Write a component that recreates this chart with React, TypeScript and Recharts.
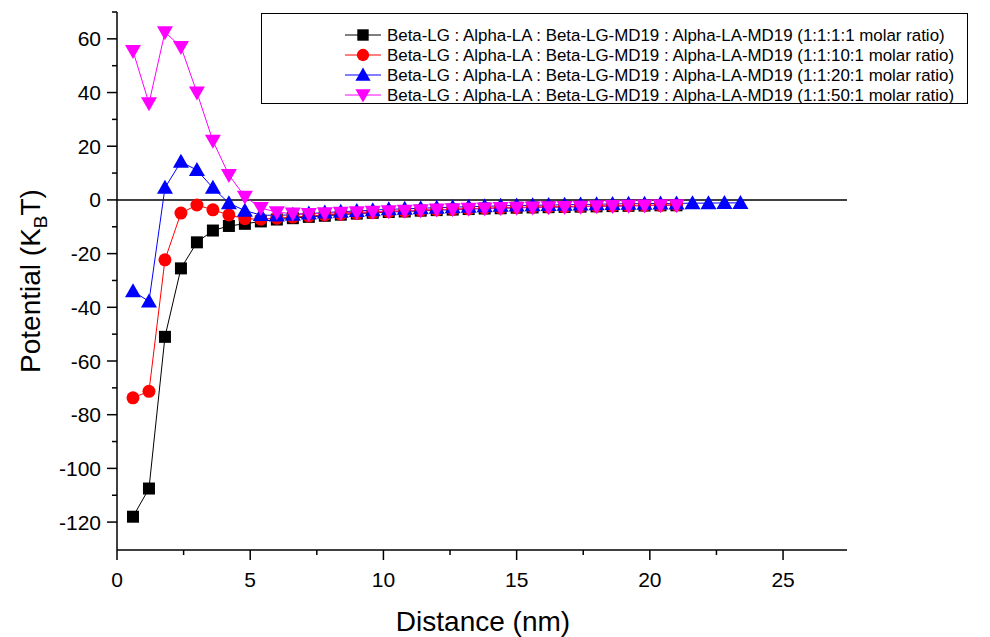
import React from 'react';
import { LineChart, Line, XAxis, YAxis, ReferenceLine, Legend } from 'recharts';

const distances = [
  0.6, 1.2, 1.8, 2.4, 3.0, 3.6, 4.2, 4.8, 5.4, 6.0,
  6.6, 7.2, 7.8, 8.4, 9.0, 9.6, 10.2, 10.8, 11.4, 12.0,
  12.6, 13.2, 13.8, 14.4, 15.0, 15.6, 16.2, 16.8, 17.4, 18.0,
  18.6, 19.2, 19.8, 20.4, 21.0, 21.6, 22.2, 22.8, 23.4,
];

const ratio1Values = [
  -118, -107.5, -51, -25.5, -15.8, -11.4, -9.7, -8.9, -8, -7.3,
  -6.8, -6.3, -5.9, -5.5, -5.1, -4.8, -4.5, -4.3, -4.0, -3.8,
  -3.6, -3.4, -3.2, -3.1, -2.9, -2.8, -2.7, -2.6, -2.5, -2.4,
  -2.3, -2.2, -2.1, -2.0, -2.0,
];

const ratio10Values = [
  -73.7, -71.3, -22.3, -4.9, -1.9, -3.7, -5.6, -7, -7.2, -6.8,
  -6.4, -6.0, -5.6, -5.3, -5.0, -4.7, -4.4, -4.2, -3.9, -3.7,
  -3.5, -3.3, -3.1, -3.0, -2.8, -2.7, -2.6, -2.5, -2.4, -2.3,
  -2.2, -2.1, -2.0, -2.0, -1.9,
];

const ratio20Values = [
  -34, -37.8, 4.5, 14.2, 11.1, 4.5, -1.2, -4, -5.6, -5.8,
  -5.5, -5.1, -4.7, -4.4, -4.1, -3.8, -3.5, -3.3, -3.1, -2.9,
  -2.7, -2.5, -2.4, -2.2, -2.1, -2.0, -1.9, -1.8, -1.7, -1.6,
  -1.5, -1.4, -1.4, -1.3, -1.3, -1.2, -1.2, -1.1, -1.1,
];

const ratio50Values = [
  55.5, 36, 62.5, 57, 40, 22, 9.3, 1.2, -3, -4.6,
  -5.1, -5.2, -5.0, -4.8, -4.6, -4.4, -4.2, -4.0, -3.8, -3.6,
  -3.5, -3.3, -3.2, -3.0, -2.9, -2.8, -2.7, -2.6, -2.5, -2.4,
  -2.3, -2.2, -2.1, -2.0, -2.0,
];

const seriesNames = [
  'Beta-LG : Alpha-LA : Beta-LG-MD19 : Alpha-LA-MD19 (1:1:1:1 molar ratio)',
  'Beta-LG : Alpha-LA : Beta-LG-MD19 : Alpha-LA-MD19 (1:1:10:1 molar ratio)',
  'Beta-LG : Alpha-LA : Beta-LG-MD19 : Alpha-LA-MD19 (1:1:20:1 molar ratio)',
  'Beta-LG : Alpha-LA : Beta-LG-MD19 : Alpha-LA-MD19 (1:1:50:1 molar ratio)',
];
const seriesColors = ['#000000', '#ff0000', '#0000ff', '#ff00ff'];
const seriesShapes = ['square', 'circle', 'up', 'down'];

const xTicks = [0, 2.5, 5, 7.5, 10, 12.5, 15, 17.5, 20, 22.5, 25];
const xMajorTicks = [0, 5, 10, 15, 20, 25];
const yTicks = [-120, -110, -100, -90, -80, -70, -60, -50, -40, -30, -20, -10, 0, 10, 20, 30, 40, 50, 60, 70];
const yMajorTicks = [-120, -100, -80, -60, -40, -20, 0, 20, 40, 60];

const FONT = '"Liberation Sans", Arial, sans-serif';

const toData = (vals: number[]) => vals.map((v, i) => ({ x: distances[i], y: v }));
const seriesData = [ratio1Values, ratio10Values, ratio20Values, ratio50Values].map(toData);

function Marker({ shape, cx, cy, color, s = 1 }: { shape: string; cx: number; cy: number; color: string; s?: number }) {
  if (shape === 'square') {
    return <rect x={cx - 6 * s} y={cy - 6 * s} width={12 * s} height={12 * s} fill={color} />;
  }
  if (shape === 'circle') {
    return <circle cx={cx} cy={cy} r={6.5 * s} fill={color} />;
  }
  if (shape === 'up') {
    return (
      <polygon
        points={`${cx},${cy - 8 * s} ${cx + 8 * s},${cy + 6 * s} ${cx - 8 * s},${cy + 6 * s}`}
        fill={color}
      />
    );
  }
  return (
    <polygon
      points={`${cx - 8 * s},${cy - 6 * s} ${cx + 8 * s},${cy - 6 * s} ${cx},${cy + 8 * s}`}
      fill={color}
    />
  );
}

const makeDot = (shape: string, color: string) => (p: any) => {
  if (p.cx == null || p.cy == null) return <g key={`e-${shape}-${p.index}`} />;
  return (
    <g key={`d-${shape}-${p.index}`}>
      <Marker shape={shape} cx={p.cx} cy={p.cy} color={color} />
    </g>
  );
};

const XTick = (props: any) => {
  const { x, y, payload } = props;
  const v = payload.value;
  const major = xMajorTicks.includes(v);
  return (
    <g>
      <line x1={x} y1={y} x2={x} y2={y + (major ? 10 : 5)} stroke="#000" strokeWidth={1.5} />
      {major && (
        <text x={x} y={y + 37} textAnchor="middle" fontSize={21} fontFamily={FONT} fill="#000">
          {v}
        </text>
      )}
    </g>
  );
};

const YTick = (props: any) => {
  const { x, y, payload } = props;
  const v = payload.value;
  const major = yMajorTicks.includes(v);
  return (
    <g>
      <line x1={x} y1={y} x2={x - (major ? 10 : 5)} y2={y} stroke="#000" strokeWidth={1.5} />
      {major && (
        <text x={x - 16} y={y + 7.5} textAnchor="end" fontSize={21} fontFamily={FONT} fill="#000">
          {v}
        </text>
      )}
    </g>
  );
};

const LegendBox = () => (
  <svg width={708} height={92} style={{ display: 'block' }}>
    <rect x={0.5} y={0.5} width={706} height={90} fill="#fff" stroke="#000" strokeWidth={1} />
    {seriesNames.map((name, i) => {
      const cy = 22 + i * 20;
      return (
        <g key={name}>
          <line x1={84} y1={cy} x2={120} y2={cy} stroke={seriesColors[i]} strokeWidth={1} />
          <Marker shape={seriesShapes[i]} cx={102} cy={cy} color={seriesColors[i]} s={0.95} />
          <text x={126} y={cy + 6} fontSize={16.9} fontFamily={FONT} fill="#000">
            {name}
          </text>
        </g>
      );
    })}
  </svg>
);

export default function App() {
  return (
    <div style={{ position: 'absolute', left: 0, top: 0, width: 990, height: 637, background: '#fff' }}>
      <LineChart
        width={990}
        height={637}
        margin={{ top: 12, right: 143, bottom: 0, left: 0 }}
        style={{ fontFamily: FONT }}
      >
        <XAxis
          type="number"
          dataKey="x"
          domain={[0, 27.4]}
          allowDataOverflow
          ticks={xTicks}
          interval={0}
          height={87}
          tickSize={0}
          tickMargin={0}
          tickLine={false}
          tick={<XTick />}
          axisLine={{ stroke: '#000', strokeWidth: 1.5 }}
          label={{
            value: 'Distance (nm)',
            position: 'insideBottom',
            offset: 0,
            content: () => (
              <text x={483} y={631} textAnchor="middle" fontSize={28} fontFamily={FONT} fill="#000">
                Distance (nm)
              </text>
            ),
          }}
        />
        <YAxis
          type="number"
          dataKey="y"
          domain={[-130.4, 70]}
          allowDataOverflow
          ticks={yTicks}
          interval={0}
          width={117}
          tickSize={0}
          tickMargin={0}
          tickLine={false}
          tick={<YTick />}
          axisLine={{ stroke: '#000', strokeWidth: 1.5 }}
          label={{
            value: 'Potential',
            content: () => (
              <text
                transform="translate(40, 281) rotate(-90)"
                textAnchor="middle"
                fontSize={28}
                fontFamily={FONT}
                fill="#000"
              >
                Potential (K<tspan dy={7} fontSize={19}>B</tspan>
                <tspan dy={-7}>T)</tspan>
              </text>
            ),
          }}
        />
        <ReferenceLine y={0} stroke="#000" strokeWidth={1.5} />
        {seriesData.map((d, i) => (
          <Line
            key={seriesNames[i]}
            data={d}
            dataKey="y"
            name={seriesNames[i]}
            type="linear"
            stroke={seriesColors[i]}
            strokeWidth={1}
            dot={makeDot(seriesShapes[i], seriesColors[i])}
            activeDot={false}
            isAnimationActive={false}
          />
        ))}
        <Legend
          layout="vertical"
          align="center"
          verticalAlign="middle"
          content={() => <LegendBox />}
          wrapperStyle={{ position: 'absolute', left: 261, top: 13, width: 708, height: 92 }}
        />
      </LineChart>
    </div>
  );
}
